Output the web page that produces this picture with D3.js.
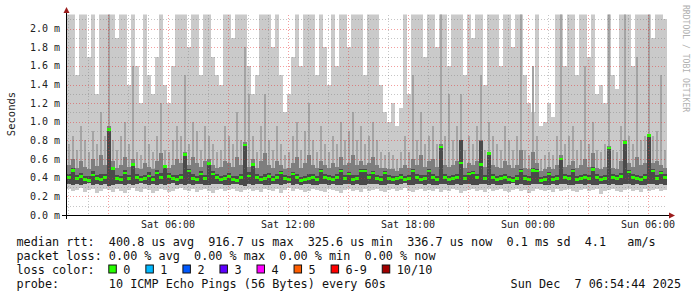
<!DOCTYPE html>
<html>
<head>
<meta charset="utf-8">
<script src="https://cdn.jsdelivr.net/npm/d3@7"></script>
<style>
  body { margin: 0; background: #fff; }
  svg { display: block; font-family: "DejaVu Sans Mono", monospace; }
  text { white-space: pre; }
</style>
</head>
<body>
<svg id="chart" width="697" height="297"></svg>
<script>
"use strict";

// all rtt values in microseconds, one entry per 12 minute column
var medianRtt = [
  400,480,390,410,380,370,430,390,380,400, 920,500,390,380,450,390,540,400,380,390,
  420,380,450,400,520,410,390,380,400,650, 470,390,380,440,390,550,440,400,380,390,
  410,380,370,400,750,420,540,400,380,390, 410,380,400,450,390,380,440,400,370,380,
  390,400,380,470,400,390,380,400,470,390, 440,380,390,470,470,400,450,390,380,450,
  390,380,390,400,380,390,470,400,380,390, 470,400,380,730,400,380,390,400,560,390,
  440,450,400,540,390,660,400,380,390,400, 380,370,390,470,390,380,480,470,370,380,
  440,380,390,600,400,390,470,380,390,400, 390,490,400,380,390,720,400,390,410,780,
  460,400,390,380,400,850,470,390,450,400
];
// top of the darkest smoke
var coreTop = [
  440,500,430,450,420,420,470,430,440,440, 930,520,430,420,480,430,560,440,420,430,
  460,420,480,450,540,450,430,430,440,660, 490,440,420,470,430,560,470,440,420,430,
  450,420,420,440,760,460,550,440,420,440, 450,420,440,470,430,420,460,440,410,420,
  440,440,420,490,440,430,420,440,490,430, 460,430,430,490,490,440,470,430,420,470,
  430,420,420,440,420,430,490,440,430,430, 490,440,420,740,440,420,430,440,800,430,
  460,470,440,790,430,670,440,420,430,440, 420,410,430,490,430,420,500,490,410,420,
  460,420,430,610,440,430,490,420,430,440, 430,510,440,420,430,730,440,430,450,790,
  480,440,430,420,440,860,490,430,470,440
];
var pingHigh = [
  540,600,500,580,520,490,600,530,640,540, 950,580,500,540,620,520,600,500,490,560,
  520,490,580,660,540,500,540,600,560,680, 540,620,560,520,580,600,540,500,520,580,
  560,520,620,540,780,520,600,500,580,660, 540,500,580,540,490,500,560,620,500,560,
  640,540,500,580,540,500,560,520,620,540, 560,640,540,580,540,560,620,540,500,500,
  490,490,470,500,540,500,600,540,640,520, 580,600,520,760,540,520,540,580,800,500,
  560,540,580,800,520,680,540,520,500,580, 540,500,540,700,500,490,680,560,470,490,
  520,490,540,640,520,540,580,500,540,600, 520,660,500,490,520,740,500,490,580,800,
  560,520,620,540,560,860,560,580,540,500
];
var pingUpper = [
  760,850,700,950,800,680,900,760,1100,850, 2200,800,700,850,1000,760,1600,680,640,950,
  760,680,850,1200,700,680,800,950,850,1500, 760,1000,900,700,950,850,760,680,700,950,
  850,760,1100,800,1800,1300,850,680,950,1300, 800,700,950,760,640,680,850,1000,700,900,
  1200,800,680,950,760,680,850,760,1000,800, 900,1100,800,950,760,850,1000,800,680,640,
  680,640,600,680,850,680,1500,800,1100,760, 850,950,760,2200,850,1300,800,950,1300,700,
  850,760,950,1500,700,1000,850,760,700,950, 800,700,850,2200,700,640,1600,850,600,640,
  680,640,850,2200,760,850,950,700,800,1600, 760,1000,700,680,760,2200,700,680,950,2200,
  850,760,1700,800,850,2200,850,900,1500,700
];
var pingMax = [
  2200,2200,1500,2200,2200,1700,2200,1300,2200,2200, 2200,2200,1900,2200,2200,1400,2200,1600,1200,2200,
  1500,1300,1700,2200,1400,1200,1600,2200,2200,2200, 1800,2200,2200,1500,2200,2200,1700,1500,1400,2200,
  2200,1900,2200,2200,2200,1600,1300,1500,2200,2200, 2200,1800,2200,1500,1100,1300,1700,2200,1600,2200,
  2200,2200,1500,2200,1800,1400,2200,1600,2200,2200, 1800,2200,2200,2200,1500,2200,2200,2200,1400,1100,
  1000,1200,950,1150,2200,1300,2200,2200,2200,1700, 2200,2200,1800,2200,2200,1600,2200,2200,2200,1500,
  2200,1900,2200,2200,1400,2200,2200,2200,1600,2200, 2200,1800,2200,2200,1500,1200,1100,2200,950,1000,
  1200,1050,2200,2200,1600,2200,2200,1500,2200,2200, 1700,2200,1300,1400,1200,2200,1500,1350,2200,2200,
  2200,1600,2200,2200,2200,2200,1900,2200,2200,2100
];
var pingLow = [
  330,320,335,325,330,340,320,330,325,335, 315,325,330,335,320,330,325,335,340,330,
  325,330,320,335,325,330,340,325,330,320, 330,325,335,330,320,325,330,335,330,325,
  320,330,335,325,315,330,325,335,330,320, 325,330,335,325,330,340,325,330,320,335,
  330,325,320,330,335,325,330,320,325,330, 335,325,330,320,325,330,335,330,325,320,
  330,335,325,330,340,325,320,330,335,325, 330,320,325,335,330,325,320,330,325,335,
  330,325,320,330,335,325,330,320,325,330, 335,340,325,330,320,325,330,335,330,325,
  320,330,325,335,330,320,325,330,335,325, 330,325,320,335,330,325,330,320,325,330,
  335,325,330,320,325,330,335,325,330,320
];
var pingMin = [
  280,260,270,290,250,270,280,240,260,280, 270,250,280,260,240,270,290,260,250,280,
  270,240,260,280,270,250,260,280,290,270, 260,280,250,270,280,260,240,270,280,260,
  270,280,260,250,270,280,260,270,250,280, 270,260,280,240,270,290,260,280,270,250,
  260,280,270,260,250,280,270,260,240,270, 280,260,270,250,280,260,270,280,260,250,
  270,280,260,270,290,260,250,270,280,260, 270,260,280,250,270,260,280,270,240,260,
  270,280,260,270,250,280,260,270,280,260, 250,270,280,260,270,240,260,280,270,260,
  270,250,280,260,270,280,260,250,270,280, 260,270,280,230,260,270,280,260,250,270,
  280,260,270,250,280,260,270,280,260,270
];

var yTickValues = [0, 200, 400, 600, 800, 1000, 1200, 1400, 1600, 1800, 2000];
var lossLabels = ["0", "1", "2", "3", "4", "5", "6-9", "10/10"];
var lossColors = ["#26ff00", "#00b8ff", "#0059ff", "#5e00ff", "#ff00fe", "#ff5e00", "#ff0000", "#a10000"];

var legendRtt = "median rtt:  400.8 us avg  916.7 us max  325.6 us min  336.7 us now  0.1 ms sd  4.1   am/s";
var legendLoss = "packet loss: 0.00 % avg  0.00 % max  0.00 % min  0.00 % now";
var legendProbe = "probe:       10 ICMP Echo Pings (56 Bytes) every 60s";
var stamp = "Sun Dec  7 06:54:44 2025";

var plotLeft = 67, plotRight = 667, plotTop = 14.6, plotBottom = 215;

var svg = d3.select("#chart");

var x = d3.scaleBand().domain(d3.range(medianRtt.length)).range([plotLeft, plotRight]);
var y = d3.scaleLinear().domain([0, 2150]).range([plotBottom, plotTop]);
var t = d3.scaleTime()
  .domain([new Date(2025, 11, 6, 0, 57), new Date(2025, 11, 7, 6, 57)])
  .range([plotLeft, plotRight]);

svg.append("clipPath").attr("id", "plot")
  .append("rect")
  .attr("x", plotLeft).attr("y", plotTop)
  .attr("width", plotRight - plotLeft).attr("height", plotBottom - plotTop);

var smoke = svg.append("g").attr("clip-path", "url(#plot)").attr("shape-rendering", "crispEdges");

// smoke bands, lightest (outer pings) first; inset narrows a band inside its column
var bw = x.bandwidth();
var bands = [
  { lo: pingMin, hi: pingMax, color: "#cacaca", inset: 0 },
  { lo: pingLow, hi: pingUpper, color: "#a4a4a4", inset: 1 },
  { lo: pingLow, hi: pingHigh, color: "#7e7e7e", inset: 0 },
  { lo: pingLow, hi: coreTop, color: "#4a4a4a", inset: 0 }
];

bands.forEach(function(b) {
  smoke.append("g")
    .selectAll("rect")
    .data(d3.range(medianRtt.length))
    .enter()
    .append("rect")
    .attr("x", function(i) { return x(i) + b.inset; })
    .attr("width", bw - 2 * b.inset)
    .attr("y", function(i) { return y(b.hi[i]); })
    .attr("height", function(i) { return y(b.lo[i]) - y(b.hi[i]); })
    .attr("fill", b.color);
});

// median, drawn as small blocks like smokeping does
smoke.append("g")
  .selectAll("rect")
  .data(medianRtt)
  .enter()
  .append("rect")
  .attr("x", function(d, i) { return x(i); })
  .attr("width", bw)
  .attr("y", function(d) { return y(d) - 1.3; })
  .attr("height", 2.6)
  .attr("fill", lossColors[0]);

// grid on top of the graph, semi transparent like rrdtool
var grid = svg.append("g").attr("shape-rendering", "crispEdges").attr("stroke-width", 1)
  .attr("stroke-dasharray", "1,2");
var minorColor = "rgba(128,128,128,0.45)", majorColor = "rgba(230,40,40,0.45)";

var minorY = d3.range(100, 2150, 100).filter(function(v) { return v % 200 !== 0; });
grid.selectAll(".hmin").data(minorY).enter().append("line")
  .attr("x1", plotLeft).attr("x2", plotRight)
  .attr("y1", function(d) { return Math.round(y(d)) + 0.5; })
  .attr("y2", function(d) { return Math.round(y(d)) + 0.5; })
  .attr("stroke", minorColor);

grid.selectAll(".hmaj").data(yTickValues.slice(1)).enter().append("line")
  .attr("x1", plotLeft).attr("x2", plotRight)
  .attr("y1", function(d) { return Math.round(y(d)) + 0.5; })
  .attr("y2", function(d) { return Math.round(y(d)) + 0.5; })
  .attr("stroke", majorColor);

var hourTicks = t.ticks(d3.timeHour.every(1)).filter(function(d) { return d.getHours() % 3 !== 0; });
var majorTicks = t.ticks(d3.timeHour.every(3));

grid.selectAll(".vmin").data(hourTicks).enter().append("line")
  .attr("x1", function(d) { return Math.round(t(d)) + 0.5; })
  .attr("x2", function(d) { return Math.round(t(d)) + 0.5; })
  .attr("y1", plotTop).attr("y2", plotBottom)
  .attr("stroke", minorColor);

grid.selectAll(".vmaj").data(majorTicks).enter().append("line")
  .attr("x1", function(d) { return Math.round(t(d)) + 0.5; })
  .attr("x2", function(d) { return Math.round(t(d)) + 0.5; })
  .attr("y1", plotTop).attr("y2", plotBottom)
  .attr("stroke", majorColor);

// axes
svg.append("line")
  .attr("x1", 62).attr("x2", 670).attr("y1", plotBottom + 0.5).attr("y2", plotBottom + 0.5)
  .attr("stroke", "#000").attr("shape-rendering", "crispEdges");
svg.append("line")
  .attr("x1", plotLeft - 0.5).attr("x2", plotLeft - 0.5).attr("y1", plotBottom + 4).attr("y2", 12)
  .attr("stroke", "#000").attr("shape-rendering", "crispEdges");
svg.append("path").attr("d", "M669,212.5L675,215.5L669,218.5Z").attr("fill", "#9b1c1c");
svg.append("path").attr("d", "M63.5,13L66.5,7L69.5,13Z").attr("fill", "#9b1c1c");

// tick labels
svg.append("g")
  .selectAll("text")
  .data(yTickValues)
  .enter()
  .append("text")
  .attr("x", 60)
  .attr("y", function(d) { return y(d) + 3.5; })
  .attr("text-anchor", "end")
  .attr("font-size", "10px")
  .attr("fill", "#222")
  .text(function(d) { return (d / 1000).toFixed(1) + " m"; });

svg.append("g")
  .selectAll("text")
  .data(t.ticks(d3.timeHour.every(6)))
  .enter()
  .append("text")
  .attr("x", function(d) { return t(d); })
  .attr("y", 228)
  .attr("text-anchor", "middle")
  .attr("font-size", "10px")
  .attr("fill", "#222")
  .text(d3.timeFormat("%a %H:%M"));

svg.append("text")
  .attr("transform", "translate(15,114) rotate(-90)")
  .attr("text-anchor", "middle")
  .attr("font-size", "10.5px")
  .attr("fill", "#222")
  .text("Seconds");

svg.append("text")
  .attr("transform", "translate(683,5) rotate(90)")
  .attr("font-size", "8.1px")
  .attr("fill", "#b0b0b0")
  .text("RRDTOOL / TOBI OETIKER");

// legend
var legend = svg.append("g").attr("font-size", "11.8px").attr("fill", "#111");
legend.append("text").attr("x", 16.5).attr("y", 245.5).text(legendRtt);
legend.append("text").attr("x", 16.5).attr("y", 259.5).text(legendLoss);
legend.append("text").attr("x", 16.5).attr("y", 273.5).text("loss color:");
legend.append("text").attr("x", 16.5).attr("y", 287.5).text(legendProbe);
legend.append("text").attr("x", 681).attr("y", 287.5).attr("text-anchor", "end").text(stamp);

var charW = 7.05, sx = 108.3, swatchX = [];
lossLabels.forEach(function(l) {
  swatchX.push(sx);
  sx = sx + 15 + l.length * charW + 15;
});

var sw = legend.selectAll(".sw").data(lossLabels).enter().append("g");
sw.append("rect")
  .attr("x", function(d, i) { return swatchX[i] + 0.5; })
  .attr("y", 265)
  .attr("width", 7.5)
  .attr("height", 8)
  .attr("fill", function(d, i) { return lossColors[i]; })
  .attr("stroke", "#111");
sw.append("text")
  .attr("x", function(d, i) { return swatchX[i] + 15; })
  .attr("y", 273.5)
  .text(function(d) { return d; });
</script>
</body>
</html>
